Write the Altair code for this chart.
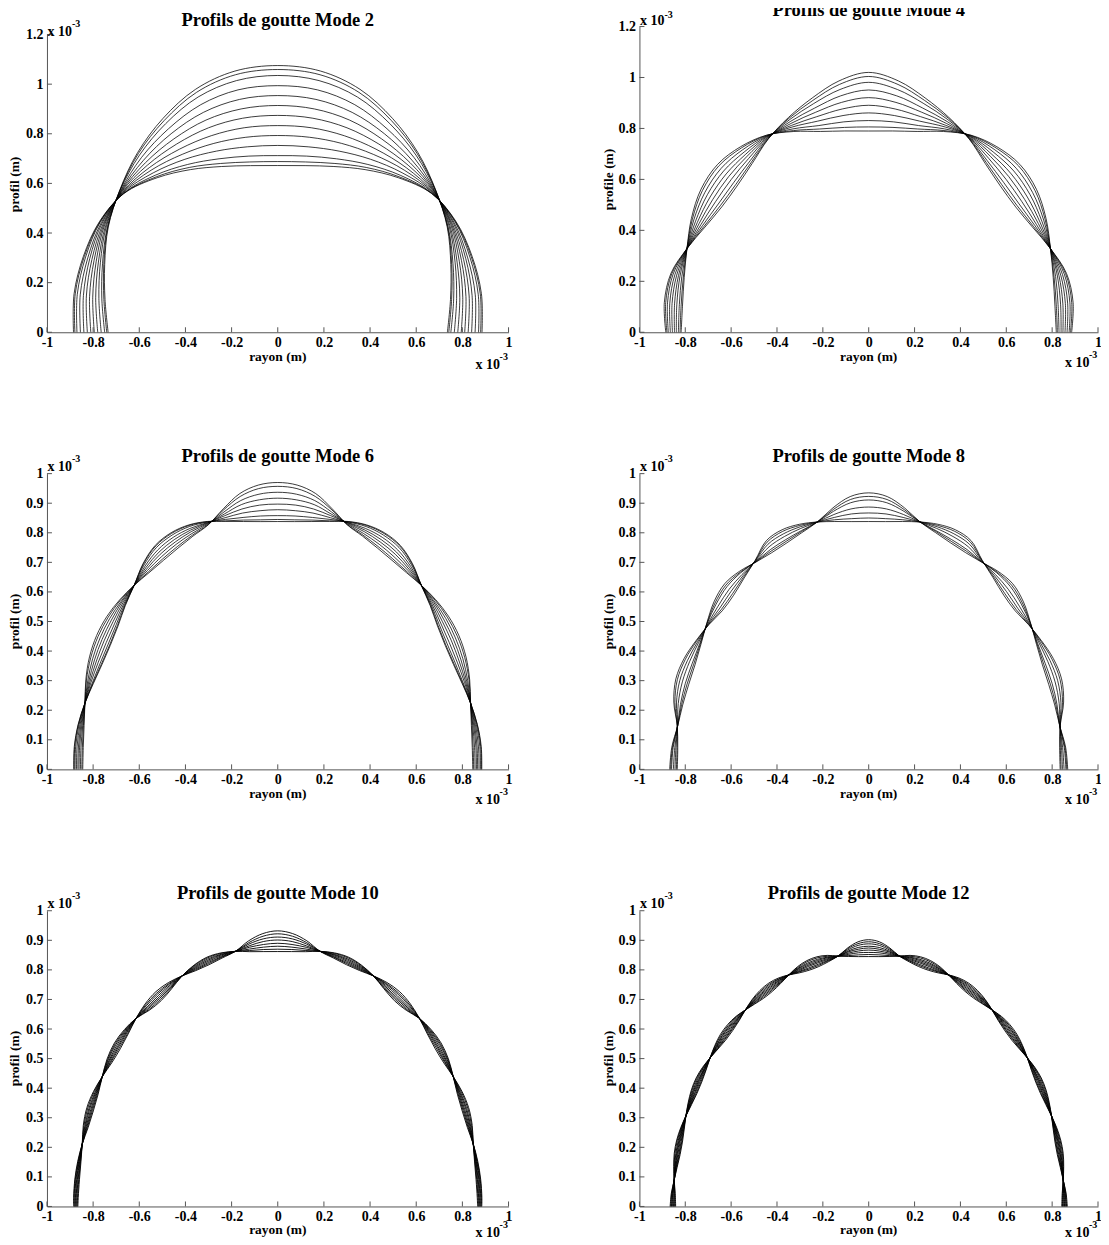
import math
import altair as alt
import pandas as pd

FONT = "Liberation Serif"
AXIS_COLOR = "#555555"

X_TICKS = [-1, -0.8, -0.6, -0.4, -0.2, 0, 0.2, 0.4, 0.6, 0.8, 1]
Y_TICKS_A = [0, 0.2, 0.4, 0.6, 0.8, 1, 1.2]
Y_TICKS_B = [0, 0.1, 0.2, 0.3, 0.4, 0.5, 0.6, 0.7, 0.8, 0.9, 1]

TITLES = ["Profils de goutte Mode 2", "Profils de goutte Mode 4",
          "Profils de goutte Mode 6", "Profils de goutte Mode 8",
          "Profils de goutte Mode 10", "Profils de goutte Mode 12"]
Y_TITLES = ["profil (m)", "profile (m)", "profil (m)", "profil (m)", "profil (m)", "profil (m)"]
X_TITLE = "rayon (m)"
EXP_BASE = "x 10"
EXP_SUP = "-3"

# Profiles in polar form: polar angle from the vertical axis (degrees) and radius (x 1e-3 m)
M2_ANGLES = [0, 10, 20, 30, 40, 50, 60, 70, 80, 90]
M2_RADII = [
    [1.075, 1.069, 1.042, 0.995, 0.945, 0.893, 0.848, 0.798, 0.760, 0.735],
    [1.059, 1.054, 1.029, 0.985, 0.940, 0.892, 0.850, 0.802, 0.765, 0.741],
    [1.035, 1.030, 1.009, 0.971, 0.932, 0.891, 0.852, 0.808, 0.774, 0.750],
    [0.994, 0.992, 0.976, 0.947, 0.919, 0.888, 0.857, 0.818, 0.787, 0.765],
    [0.954, 0.953, 0.943, 0.924, 0.905, 0.886, 0.861, 0.827, 0.801, 0.780],
    [0.914, 0.914, 0.910, 0.900, 0.892, 0.884, 0.866, 0.837, 0.814, 0.795],
    [0.874, 0.876, 0.877, 0.876, 0.879, 0.882, 0.870, 0.847, 0.828, 0.810],
    [0.833, 0.837, 0.843, 0.852, 0.866, 0.879, 0.874, 0.857, 0.842, 0.825],
    [0.793, 0.798, 0.810, 0.828, 0.853, 0.877, 0.879, 0.867, 0.855, 0.840],
    [0.753, 0.759, 0.777, 0.805, 0.839, 0.875, 0.883, 0.876, 0.869, 0.855],
    [0.712, 0.721, 0.744, 0.781, 0.826, 0.872, 0.888, 0.886, 0.882, 0.870],
    [0.688, 0.697, 0.724, 0.767, 0.818, 0.871, 0.890, 0.892, 0.891, 0.879],
    [0.672, 0.682, 0.711, 0.757, 0.813, 0.870, 0.892, 0.896, 0.896, 0.885],
]

M4_ANGLES = [0, 7.5, 15, 22.5, 30, 37.5, 45, 52.5, 60, 67.5, 75, 82.5, 90]
M4_RADII = [
    [1.020, 0.995, 0.952, 0.913, 0.876, 0.835, 0.812, 0.808, 0.825, 0.858, 0.893, 0.899, 0.885],
    [1.004, 0.981, 0.942, 0.909, 0.877, 0.841, 0.820, 0.816, 0.830, 0.858, 0.889, 0.893, 0.880],
    [0.981, 0.961, 0.929, 0.903, 0.879, 0.849, 0.832, 0.827, 0.837, 0.858, 0.883, 0.885, 0.874],
    [0.951, 0.936, 0.911, 0.895, 0.881, 0.860, 0.848, 0.842, 0.845, 0.858, 0.875, 0.875, 0.865],
    [0.921, 0.910, 0.894, 0.887, 0.883, 0.871, 0.864, 0.857, 0.854, 0.858, 0.867, 0.865, 0.856],
    [0.891, 0.884, 0.876, 0.879, 0.886, 0.881, 0.879, 0.872, 0.863, 0.858, 0.859, 0.854, 0.847],
    [0.861, 0.858, 0.858, 0.872, 0.888, 0.892, 0.895, 0.887, 0.872, 0.858, 0.852, 0.844, 0.839],
    [0.831, 0.833, 0.840, 0.864, 0.890, 0.903, 0.910, 0.901, 0.881, 0.858, 0.844, 0.833, 0.830],
    [0.806, 0.811, 0.826, 0.857, 0.892, 0.912, 0.924, 0.914, 0.888, 0.858, 0.837, 0.825, 0.823],
    [0.790, 0.797, 0.816, 0.853, 0.893, 0.918, 0.932, 0.922, 0.893, 0.858, 0.833, 0.819, 0.818],
]

M6_ANGLES = [0, 5, 10, 15, 20, 25, 30, 35, 40, 45, 50, 55, 60, 65, 70, 75, 80, 85, 90]
M6_RADII = [
    [0.970, 0.965, 0.947, 0.912, 0.880, 0.870, 0.864, 0.863, 0.868, 0.880, 0.893, 0.903, 0.906, 0.900, 0.885, 0.865, 0.852, 0.846, 0.845],
    [0.957, 0.953, 0.937, 0.908, 0.881, 0.874, 0.870, 0.869, 0.872, 0.880, 0.890, 0.897, 0.899, 0.894, 0.882, 0.865, 0.855, 0.850, 0.849],
    [0.937, 0.934, 0.923, 0.901, 0.883, 0.880, 0.879, 0.878, 0.878, 0.880, 0.885, 0.889, 0.889, 0.885, 0.876, 0.865, 0.858, 0.856, 0.855],
    [0.917, 0.915, 0.909, 0.894, 0.885, 0.887, 0.888, 0.888, 0.884, 0.880, 0.881, 0.880, 0.879, 0.876, 0.871, 0.865, 0.862, 0.862, 0.861],
    [0.897, 0.897, 0.894, 0.888, 0.887, 0.893, 0.897, 0.897, 0.890, 0.880, 0.876, 0.871, 0.869, 0.867, 0.866, 0.865, 0.866, 0.867, 0.866],
    [0.878, 0.878, 0.880, 0.881, 0.888, 0.899, 0.906, 0.906, 0.896, 0.880, 0.871, 0.862, 0.858, 0.858, 0.861, 0.865, 0.870, 0.873, 0.872],
    [0.858, 0.860, 0.865, 0.875, 0.890, 0.906, 0.915, 0.916, 0.902, 0.880, 0.867, 0.854, 0.848, 0.849, 0.855, 0.865, 0.874, 0.879, 0.878],
    [0.845, 0.847, 0.856, 0.870, 0.891, 0.910, 0.921, 0.922, 0.906, 0.880, 0.864, 0.848, 0.841, 0.843, 0.852, 0.865, 0.877, 0.883, 0.882],
    [0.838, 0.841, 0.851, 0.868, 0.892, 0.912, 0.924, 0.925, 0.908, 0.880, 0.862, 0.845, 0.838, 0.840, 0.850, 0.865, 0.878, 0.885, 0.884],
]

M8_ANGLES = [0, 5, 10, 15, 20, 25, 30, 35, 40, 45, 50, 55, 60, 65, 70, 75, 80, 85, 90]
M8_RADII = [
    [0.935, 0.926, 0.898, 0.866, 0.852, 0.845, 0.846, 0.856, 0.875, 0.888, 0.881, 0.862, 0.845, 0.836, 0.836, 0.840, 0.846, 0.862, 0.868],
    [0.923, 0.916, 0.892, 0.866, 0.856, 0.851, 0.852, 0.857, 0.871, 0.881, 0.875, 0.861, 0.848, 0.842, 0.843, 0.845, 0.846, 0.859, 0.864],
    [0.911, 0.905, 0.886, 0.866, 0.859, 0.857, 0.858, 0.858, 0.868, 0.874, 0.869, 0.860, 0.851, 0.849, 0.851, 0.850, 0.846, 0.856, 0.860],
    [0.887, 0.884, 0.875, 0.866, 0.867, 0.869, 0.869, 0.859, 0.860, 0.861, 0.858, 0.857, 0.857, 0.862, 0.865, 0.860, 0.847, 0.849, 0.852],
    [0.867, 0.867, 0.865, 0.866, 0.873, 0.879, 0.879, 0.861, 0.854, 0.850, 0.848, 0.855, 0.862, 0.872, 0.877, 0.868, 0.847, 0.844, 0.845],
    [0.850, 0.851, 0.857, 0.866, 0.878, 0.888, 0.887, 0.862, 0.849, 0.840, 0.840, 0.853, 0.867, 0.882, 0.888, 0.875, 0.848, 0.839, 0.839],
    [0.838, 0.841, 0.851, 0.866, 0.882, 0.894, 0.893, 0.863, 0.845, 0.833, 0.834, 0.852, 0.870, 0.888, 0.895, 0.880, 0.848, 0.836, 0.835],
]

M10_ANGLES = [0, 4, 8, 12, 16, 20, 24, 28, 32, 36, 40, 44, 48, 52, 56, 60, 64, 68, 72, 76, 80, 84, 88, 90]
M10_RADII = [
    [0.932, 0.925, 0.907, 0.882, 0.874, 0.870, 0.873, 0.883, 0.893, 0.898, 0.894, 0.884, 0.872, 0.866, 0.868, 0.878, 0.888, 0.892, 0.886, 0.873, 0.866, 0.864, 0.865, 0.866],
    [0.922, 0.916, 0.901, 0.882, 0.877, 0.874, 0.876, 0.883, 0.889, 0.892, 0.890, 0.884, 0.875, 0.871, 0.872, 0.878, 0.885, 0.888, 0.883, 0.873, 0.868, 0.867, 0.868, 0.869],
    [0.911, 0.907, 0.896, 0.882, 0.879, 0.878, 0.879, 0.883, 0.886, 0.887, 0.886, 0.884, 0.879, 0.876, 0.875, 0.878, 0.881, 0.883, 0.879, 0.873, 0.870, 0.870, 0.871, 0.871],
    [0.901, 0.898, 0.890, 0.882, 0.882, 0.882, 0.882, 0.883, 0.882, 0.881, 0.881, 0.884, 0.882, 0.880, 0.879, 0.878, 0.878, 0.879, 0.876, 0.873, 0.872, 0.873, 0.874, 0.874],
    [0.890, 0.888, 0.885, 0.882, 0.885, 0.886, 0.885, 0.883, 0.878, 0.875, 0.877, 0.884, 0.885, 0.885, 0.882, 0.878, 0.875, 0.874, 0.873, 0.873, 0.874, 0.876, 0.877, 0.877],
    [0.880, 0.879, 0.879, 0.882, 0.887, 0.890, 0.888, 0.883, 0.874, 0.870, 0.873, 0.884, 0.888, 0.890, 0.886, 0.878, 0.872, 0.870, 0.870, 0.873, 0.876, 0.879, 0.880, 0.879],
    [0.870, 0.871, 0.874, 0.882, 0.890, 0.894, 0.891, 0.883, 0.871, 0.865, 0.869, 0.884, 0.891, 0.894, 0.889, 0.878, 0.869, 0.866, 0.867, 0.873, 0.878, 0.882, 0.883, 0.882],
    [0.862, 0.864, 0.870, 0.882, 0.892, 0.897, 0.893, 0.883, 0.868, 0.860, 0.866, 0.884, 0.894, 0.898, 0.892, 0.878, 0.866, 0.862, 0.864, 0.873, 0.880, 0.884, 0.885, 0.884],
]

M12_ANGLES = [0, 3, 6, 9, 12, 15, 18, 21, 24, 27, 30, 33, 36, 39, 42, 45, 48, 51, 54, 57, 60, 63, 66, 69, 72, 75, 78, 81, 84, 87, 90]
M12_RADII = [
    [0.902, 0.896, 0.879, 0.857, 0.846, 0.840, 0.840, 0.846, 0.857, 0.867, 0.872, 0.871, 0.865, 0.855, 0.845, 0.840, 0.840, 0.846, 0.855, 0.864, 0.869, 0.868, 0.862, 0.854, 0.846, 0.841, 0.841, 0.846, 0.853, 0.862, 0.866],
    [0.895, 0.890, 0.876, 0.857, 0.849, 0.844, 0.844, 0.849, 0.857, 0.864, 0.868, 0.867, 0.863, 0.855, 0.847, 0.844, 0.844, 0.848, 0.855, 0.862, 0.866, 0.865, 0.860, 0.854, 0.848, 0.844, 0.844, 0.848, 0.853, 0.860, 0.863],
    [0.888, 0.884, 0.872, 0.857, 0.851, 0.848, 0.848, 0.851, 0.857, 0.862, 0.864, 0.863, 0.860, 0.855, 0.850, 0.847, 0.847, 0.850, 0.855, 0.860, 0.862, 0.861, 0.858, 0.854, 0.850, 0.847, 0.847, 0.850, 0.853, 0.858, 0.860],
    [0.880, 0.877, 0.868, 0.857, 0.854, 0.853, 0.853, 0.854, 0.857, 0.859, 0.860, 0.859, 0.858, 0.855, 0.853, 0.851, 0.851, 0.853, 0.855, 0.857, 0.858, 0.858, 0.856, 0.854, 0.852, 0.851, 0.851, 0.852, 0.853, 0.856, 0.857],
    [0.874, 0.871, 0.865, 0.857, 0.857, 0.857, 0.857, 0.857, 0.857, 0.857, 0.856, 0.856, 0.856, 0.855, 0.855, 0.855, 0.855, 0.855, 0.855, 0.855, 0.855, 0.855, 0.854, 0.854, 0.854, 0.854, 0.854, 0.853, 0.853, 0.854, 0.854],
    [0.867, 0.865, 0.861, 0.857, 0.860, 0.861, 0.861, 0.860, 0.857, 0.854, 0.852, 0.852, 0.853, 0.855, 0.857, 0.859, 0.859, 0.857, 0.855, 0.853, 0.852, 0.851, 0.852, 0.854, 0.856, 0.857, 0.857, 0.855, 0.853, 0.851, 0.851],
    [0.859, 0.859, 0.857, 0.857, 0.862, 0.865, 0.865, 0.862, 0.857, 0.851, 0.848, 0.848, 0.851, 0.855, 0.860, 0.862, 0.862, 0.859, 0.855, 0.851, 0.848, 0.848, 0.850, 0.854, 0.858, 0.860, 0.860, 0.857, 0.853, 0.849, 0.848],
    [0.852, 0.852, 0.853, 0.857, 0.865, 0.870, 0.870, 0.865, 0.857, 0.849, 0.844, 0.844, 0.848, 0.855, 0.863, 0.866, 0.866, 0.862, 0.855, 0.848, 0.844, 0.844, 0.848, 0.854, 0.860, 0.864, 0.864, 0.859, 0.853, 0.847, 0.845],
    [0.845, 0.846, 0.850, 0.857, 0.868, 0.874, 0.874, 0.868, 0.857, 0.846, 0.840, 0.840, 0.846, 0.855, 0.865, 0.870, 0.870, 0.864, 0.855, 0.846, 0.841, 0.841, 0.846, 0.854, 0.862, 0.867, 0.867, 0.861, 0.853, 0.845, 0.842],
]


def curves_df(angles, radii):
    rows = []
    for ci, rs in enumerate(radii):
        seq = list(zip(angles, rs))
        pts = [(-r * math.sin(math.radians(a)), r * math.cos(math.radians(a))) for a, r in reversed(seq)]
        pts += [(r * math.sin(math.radians(a)), r * math.cos(math.radians(a))) for a, r in seq[1:]]
        for k, (x, y) in enumerate(pts):
            rows.append({"curve": ci, "k": k, "x": x, "y": y})
    return pd.DataFrame(rows)


def text_layer(txt, x, y, size, align="left", baseline="alphabetic", angle=None):
    kw = dict(font=FONT, fontSize=size, fontWeight="bold", align=align,
              baseline=baseline, color="black")
    if angle is not None:
        kw["angle"] = angle
    return alt.Chart(pd.DataFrame({"t": [txt]})).mark_text(**kw).encode(
        text="t:N", x=alt.value(x), y=alt.value(y))


def panel(idx, angles, radii, W, H, ymax, yticks, pos, yrange=None, lw=0.85):
    xscale = alt.Scale(domain=[-1, 1], nice=False, zero=False)
    ys = dict(domain=[0, ymax], nice=False, zero=False)
    if yrange is not None:
        ys["range"] = yrange
    yscale = alt.Scale(**ys)
    common = dict(title=None, grid=False, ticks=False, tickSize=0,
                  domainColor=AXIS_COLOR, domainWidth=1, labelFont=FONT,
                  labelFontSize=14, labelFontWeight="bold", labelColor="black",
                  labelFlush=False, labelOverlap=False,
                  labelExpr="'' + datum.value")
    xaxis = alt.Axis(values=X_TICKS, labelPadding=3, **common)
    yaxis = alt.Axis(values=yticks, labelPadding=4, **common)

    bottom = H
    curves = alt.Chart(curves_df(angles, radii)).mark_line(
        interpolate="catmull-rom", color="black", strokeWidth=lw, opacity=0.9
    ).encode(
        x=alt.X("x:Q", scale=xscale, axis=xaxis),
        y=alt.Y("y:Q", scale=yscale, axis=yaxis),
        detail="curve:N",
        order="k:Q",
    )
    xt = alt.Chart(pd.DataFrame({"x": X_TICKS})).mark_rule(
        color=AXIS_COLOR, strokeWidth=1).encode(
        x=alt.X("x:Q", scale=xscale, axis=xaxis),
        y=alt.value(bottom), y2=alt.value(bottom - 5))
    yt = alt.Chart(pd.DataFrame({"y": yticks})).mark_rule(
        color=AXIS_COLOR, strokeWidth=1).encode(
        y=alt.Y("y:Q", scale=yscale, axis=yaxis),
        x=alt.value(0), x2=alt.value(5))

    layers = [
        curves, xt, yt,
        text_layer(TITLES[idx], W / 2, pos["title"], 18.5, align="center"),
        text_layer(EXP_BASE, 0.5, pos["yexp"], 14),
        text_layer(EXP_SUP, 25, pos["yexp"] - pos.get("sup", 9), 10),
        text_layer(EXP_BASE, W - 33, pos["xexp"], 14),
        text_layer(EXP_SUP, W - 9, pos["xexp"] - 9, 10),
        text_layer(X_TITLE, W / 2, pos["rayon"], 13.5, align="center"),
        text_layer(Y_TITLES[idx], pos["ylx"], pos["yly"], 13.5, align="center",
                   baseline="middle", angle=270),
    ]
    return alt.layer(*layers).properties(width=W, height=H)


p2 = panel(0, M2_ANGLES, M2_RADII, 462, 306, 1.2, Y_TICKS_A,
           dict(title=-1, yexp=9, xexp=342.5, rayon=335, ylx=-32, yly=158),
           yrange=[306, 8])
p4 = panel(1, M4_ANGLES, M4_RADII, 459, 306, 1.2, Y_TICKS_A,
           dict(title=-11, yexp=-2, sup=7, xexp=341, rayon=335, ylx=-30, yly=153))
p6 = panel(2, M6_ANGLES, M6_RADII, 462, 296, 1.0, Y_TICKS_B,
           dict(title=-12, yexp=-3, xexp=331, rayon=325, ylx=-32, yly=148))
p8 = panel(3, M8_ANGLES, M8_RADII, 459, 296, 1.0, Y_TICKS_B,
           dict(title=-12, yexp=-3, xexp=331, rayon=325, ylx=-30, yly=148))
p10 = panel(4, M10_ANGLES, M10_RADII, 462, 296, 1.0, Y_TICKS_B,
            dict(title=-12, yexp=-3, xexp=327, rayon=324, ylx=-32, yly=148), lw=1.0)
p12 = panel(5, M12_ANGLES, M12_RADII, 459, 296, 1.0, Y_TICKS_B,
            dict(title=-12, yexp=-3, xexp=327, rayon=324, ylx=-30, yly=148), lw=1.0)

chart = alt.concat(p2, p4, p6, p8, p10, p12, columns=2,
                   spacing={"row": 141.5, "column": 131}, bounds="flush").properties(
    padding={"left": 0, "top": -8, "right": -1, "bottom": -3}
).configure_view(stroke=None)

chart.save("out.html", embed_options={"renderer": "svg", "actions": False})
